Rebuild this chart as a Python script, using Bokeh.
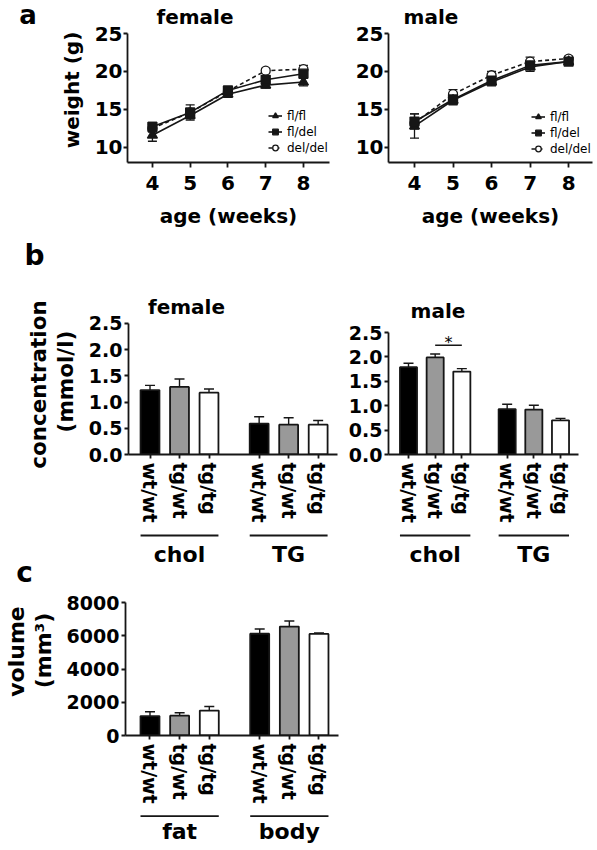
import math
from bokeh.plotting import figure
from bokeh.layouts import column, row
from bokeh.models import (Range1d, FixedTicker, Legend, LegendItem, Whisker,
                          TeeHead, ColumnDataSource, NumeralTickFormatter)
from bokeh.embed import file_html
from bokeh.resources import INLINE
from bokeh.core.properties import value

# ---------------- data ----------------
weeks = [4, 5, 6, 7, 8]
weight_genotypes = ["fl/fl", "fl/del", "del/del"]
weight_ticks = [10, 15, 20, 25]

female_flfl = [11.6, 14.2, 17.0, 18.2, 18.6]
female_flfl_err = [0.8, 0.4, 0.4, 0.4, 0.5]
female_fldel = [12.7, 14.6, 17.5, 18.9, 19.7]
female_fldel_err = [0.6, 1.0, 0.4, 0.5, 0.5]
female_deldel = [12.5, 14.6, 17.4, 20.1, 20.3]
female_deldel_err = [0.5, 0.5, 0.3, 0.3, 0.5]

male_flfl = [12.8, 16.2, 18.6, 20.6, 21.3]
male_flfl_err = [1.6, 0.6, 0.5, 0.6, 0.3]
male_fldel = [13.4, 16.3, 18.8, 20.8, 21.3]
male_fldel_err = [1.0, 0.6, 0.5, 0.5, 0.3]
male_deldel = [13.2, 17.0, 19.5, 21.3, 21.7]
male_deldel_err = [0.6, 0.6, 0.5, 0.6, 0.3]

bar_genotypes = ["wt/wt", "tg/wt", "tg/tg"]
bar_colors = ["#000000", "#999999", "#ffffff"]

lipid_groups = ["chol", "TG"]
conc_ticks = [0.0, 0.5, 1.0, 1.5, 2.0, 2.5]
female_chol = [1.23, 1.29, 1.18]
female_chol_err = [0.09, 0.15, 0.07]
female_tg = [0.59, 0.57, 0.57]
female_tg_err = [0.13, 0.13, 0.08]
male_chol = [1.79, 1.99, 1.70]
male_chol_err = [0.08, 0.07, 0.06]
male_tg = [0.93, 0.92, 0.70]
male_tg_err = [0.10, 0.09, 0.04]
male_chol_star_pair = ["tg/wt", "tg/tg"]
male_chol_star_level = 2.24

volume_groups = ["fat", "body"]
volume_ticks = [0, 2000, 4000, 6000, 8000]
fat_volume = [1170, 1190, 1500]
fat_volume_err = [260, 180, 240]
body_volume = [6120, 6550, 6110]
body_volume_err = [290, 340, 60]

# ---------------- style ----------------
FONT = "DejaVu Sans"
INK = "#161616"
SP, GAP, BAR_W = 10, 7, 6.4
UP = math.pi / 2
MID = 0.346  # em distance from baseline to the middle of the text box (DejaVu)


def make_fig(w, h, bl, br, bt, bb, xr, yr, axes=True):
    kw = dict(width=w, height=h, x_range=xr, y_range=yr, output_backend="svg",
              toolbar_location=None, min_border_left=bl, min_border_right=br,
              min_border_top=bt, min_border_bottom=bb)
    if not axes:
        kw["x_axis_location"] = None
        kw["y_axis_location"] = None
    p = figure(**kw)
    p.grid.visible = False
    p.outline_line_color = None
    p.background_fill_color = "white"
    p.border_fill_color = "white"
    return p


def text_fig(w, h, bb=0):
    """Frame used only for free text; y counts pixels up from the frame bottom."""
    return make_fig(w, h, 0, 0, 0, bb, Range1d(0, w), Range1d(0, h - bb), axes=False)


def put_text(p, x, y, text, size, angle=0.0, style="bold"):
    p.text(x=[x], y=[y], text=[text], angle=angle, text_font=value(FONT),
           text_font_size=f"{size}px", text_font_style=style, text_align="center",
           text_baseline="middle", text_color="black")


class Geo:
    """Page-pixel geometry of a frame, to place free text through its own scales."""
    def __init__(self, l, r, t, b, xr, yr):
        self.l, self.r, self.t, self.b, self.xr, self.yr = l, r, t, b, xr, yr

    def x(self, px):
        return self.xr.start + (px - self.l) / (self.r - self.l) * (self.xr.end - self.xr.start)

    def y(self, py):
        return self.yr.start + (self.b - py) / (self.b - self.t) * (self.yr.end - self.yr.start)


def style_axes(p, tick_size, y_standoff=1, x_standoff=8, x_tick_out=5):
    for ax in p.axis:
        ax.axis_line_color = INK
        ax.axis_line_width = 1.8
        ax.major_tick_line_color = INK
        ax.major_tick_line_width = 1.8
        ax.major_tick_in = 0
        ax.minor_tick_line_color = None
        ax.major_label_text_font = FONT
        ax.major_label_text_font_style = "bold"
        ax.major_label_text_font_size = f"{tick_size}px"
        ax.major_label_text_color = "black"
        ax.axis_label_text_font = FONT
        ax.axis_label_text_font_style = "bold"
        ax.axis_label_text_font_size = "20px"
        ax.axis_label_text_color = "black"
    p.yaxis.major_tick_out = 4
    p.yaxis.major_label_standoff = y_standoff
    p.xaxis.major_tick_out = x_tick_out
    p.xaxis.major_label_standoff = x_standoff


def weight_panel(p, series, legend_xy):
    markers = ["triangle", "square", "circle"]
    fills = [INK, INK, "white"]
    dashes = ["solid", "solid", "4 3"]
    sizes = [10, 9, 9]
    items = {}
    # draw del/del underneath, squares on top (as in the figure); legend keeps genotype order
    for k in [2, 0, 1]:
        name, (vals, errs) = weight_genotypes[k], series[k]
        src = ColumnDataSource(dict(x=weeks, y=vals,
                                    lo=[v - e for v, e in zip(vals, errs)],
                                    hi=[v + e for v, e in zip(vals, errs)]))
        p.add_layout(Whisker(source=src, base="x", lower="lo", upper="hi",
                             line_color=INK, line_width=1.3,
                             lower_head=TeeHead(size=9, line_color=INK, line_width=1.3),
                             upper_head=TeeHead(size=9, line_color=INK, line_width=1.3)))
        lr = p.line("x", "y", source=src, line_color=INK, line_width=1.6, line_dash=dashes[k])
        sr = p.scatter("x", "y", source=src, marker=markers[k], size=sizes[k],
                       fill_color=fills[k], line_color=INK, line_width=1.3)
        items[k] = LegendItem(label=name, renderers=[lr, sr])
    leg = Legend(items=[items[0], items[1], items[2]], location=legend_xy,
                 orientation="vertical", label_text_font=FONT, label_text_font_size="12px",
                 label_text_color="black", glyph_width=14, glyph_height=15,
                 label_height=15, spacing=1, padding=0, margin=0, label_standoff=5,
                 border_line_color=None, background_fill_alpha=0)
    p.add_layout(leg)
    p.xaxis.ticker = FixedTicker(ticks=weeks)
    p.yaxis.ticker = FixedTicker(ticks=weight_ticks)
    p.yaxis.bounds = (p.y_range.start, weight_ticks[-1])
    p.xaxis.axis_label = "age (weeks)"
    p.xaxis.axis_label_standoff = 11


def bar_panel(p, groups, vals_list, errs_list, ticks, tick_fmt):
    pos = [[g * (3 * SP + GAP) + i * SP for i in range(3)] for g in range(len(groups))]
    xs, tops, his, cols, labs = [], [], [], [], []
    for gpos, vals, errs in zip(pos, vals_list, errs_list):
        for x, v, e, c, lab in zip(gpos, vals, errs, bar_colors, bar_genotypes):
            xs.append(x)
            tops.append(v)
            his.append(v + e)
            cols.append(c)
            labs.append(lab)
    src = ColumnDataSource(dict(x=xs, top=tops, hi=his, color=cols))
    p.add_layout(Whisker(source=src, base="x", lower="top", upper="hi",
                         line_color=INK, line_width=1.4, lower_head=None,
                         upper_head=TeeHead(size=10, line_color=INK, line_width=1.4)))
    p.vbar(x="x", top="top", bottom=0, width=BAR_W, source=src, fill_color="color",
           line_color=INK, line_width=1.8)
    p.xaxis.ticker = FixedTicker(ticks=xs)
    p.xaxis.major_label_overrides = {x: lab for x, lab in zip(xs, labs)}
    p.xaxis.major_label_orientation = "vertical"
    p.yaxis.ticker = FixedTicker(ticks=ticks)
    p.yaxis.bounds = (ticks[0], ticks[-1])
    p.yaxis.formatter = NumeralTickFormatter(format=tick_fmt)
    return pos


def group_fig(w, h, bl, br, xr, groups, pos, line_y, text_y, size):
    g = make_fig(w, h, bl, br, 0, 0, xr, Range1d(0, h), axes=False)
    x0 = [gp[0] - BAR_W / 2 for gp in pos]
    x1 = [gp[-1] + BAR_W / 2 for gp in pos]
    xc = [(a + b) / 2 for a, b in zip(x0, x1)]
    g.segment(x0=x0, x1=x1, y0=line_y, y1=line_y, line_color=INK, line_width=1.8)
    g.text(x=xc, y=text_y, text=groups, text_font=value(FONT), text_font_style="bold",
           text_font_size=f"{size}px", text_align="center", text_baseline="middle",
           text_color="black")
    return g


# ================= band a : page y 0..236 =================
gutA = text_fig(88, 236, bb=74)                     # frame page y 0..162
put_text(gutA, 27.5, 162 - 14, "a", 26)
put_text(gutA, 71, 162 - 89.5, "weight (g)", 20, angle=UP)

xr_aF, yr_aF = Range1d(3.34, 8.69), Range1d(8, 29.35)
aF = make_fig(252, 236, 39, 11, 0, 74, xr_aF, yr_aF)
style_axes(aF, 20)
weight_panel(aF, [(female_flfl, female_flfl_err), (female_fldel, female_fldel_err),
                  (female_deldel, female_deldel_err)], (141, 7))
gaF = Geo(127, 329, 0, 162, xr_aF, yr_aF)
put_text(aF, gaF.x(194.5), gaF.y(23 - MID * 20), "female", 20)

xr_aM, yr_aM = Range1d(3.325, 8.62), Range1d(8, 29.35)
aM = make_fig(257, 236, 48, 5, 0, 74, xr_aM, yr_aM)
style_axes(aM, 20)
weight_panel(aM, [(male_flfl, male_flfl_err), (male_fldel, male_fldel_err),
                  (male_deldel, male_deldel_err)], (143, 6))
gaM = Geo(388, 592, 0, 162, xr_aM, yr_aM)
put_text(aM, gaM.x(430.5), gaM.y(23 - MID * 20), "male", 20)

# ================= letter b : page y 236..272 =================
hB = text_fig(597, 36)
put_text(hB, 34, 272 - (265 - MID * 28), "b", 28)

# ================= band b : page y 272..528 =================
gutB = text_fig(84, 256)                            # frame page y 272..528
put_text(gutB, 38, 528 - 384, "concentration", 21.5, angle=UP)
put_text(gutB, 65, 528 - 381, "(mmol/l)", 21.5, angle=UP)

xr_bF, yr_bF = Range1d(-7.29, 63.56), Range1d(0, 3.473)
bF = make_fig(261, 256, 44, 8, 0, 74, xr_bF, yr_bF)
style_axes(bF, 19, y_standoff=2, x_standoff=4, x_tick_out=4)
posF = bar_panel(bF, lipid_groups, [female_chol, female_tg], [female_chol_err, female_tg_err],
                 conc_ticks, "0.0")
gbF = Geo(128, 337, 272, 454, xr_bF, yr_bF)
put_text(bF, gbF.x(186), gbF.y(313 - MID * 20), "female", 20)

xr_bM, yr_bM = Range1d(-7.5, 63.75), Range1d(0, 3.730)
bM = make_fig(252, 256, 43, 19, 0, 74, xr_bM, yr_bM)
style_axes(bM, 19, y_standoff=2, x_standoff=4, x_tick_out=4)
posM = bar_panel(bM, lipid_groups, [male_chol, male_tg], [male_chol_err, male_tg_err],
                 conc_ticks, "0.0")
gbM = Geo(388, 578, 272, 454, xr_bM, yr_bM)
put_text(bM, gbM.x(437.5), gbM.y(317 - MID * 20), "male", 20)
sx = [posM[0][bar_genotypes.index(g)] for g in male_chol_star_pair]
bM.segment(x0=[sx[0]], x1=[sx[1]], y0=male_chol_star_level, y1=male_chol_star_level,
           line_color=INK, line_width=1.6)
bM.text(x=[(sx[0] + sx[1]) / 2], y=[male_chol_star_level], text=["*"], y_offset=-3,
        text_font=value(FONT), text_font_size="16px", text_align="center",
        text_baseline="middle", text_color="black")

# ================= group labels of band b + letter c : page y 528..590 =================
gLet = text_fig(128, 62)
put_text(gLet, 24, 590 - (582 - MID * 28), "c", 28)
gF = group_fig(217, 62, 0, 8, xr_bF, lipid_groups, posF, 590 - 535, 590 - (561.7 - MID * 22), 22)
gM = group_fig(252, 62, 43, 19, xr_bM, lipid_groups, posM, 590 - 535, 590 - (561.7 - MID * 22), 22)

# ================= band c : page y 590..806 =================
gutC = text_fig(62, 216, bb=71)                     # frame page y 590..735
put_text(gutC, 16, 735 - 651, "volume", 22, angle=UP)
put_text(gutC, 43, 735 - 650, "(mm³)", 22, angle=UP)

xr_c, yr_c = Range1d(-8.26, 63.58), Range1d(0, 8722)
cF = make_fig(298, 216, 63, 22, 0, 71, xr_c, yr_c)
style_axes(cF, 19, y_standoff=2, x_standoff=4, x_tick_out=4)
posC = bar_panel(cF, volume_groups, [fat_volume, body_volume], [fat_volume_err, body_volume_err],
                 volume_ticks, "0")

# ================= group labels of band c : page y 806..850 =================
gC = group_fig(360, 44, 125, 22, xr_c, volume_groups, posC, 850 - 815.7, 850 - (839 - MID * 22), 22)

layout = column(
    row(gutA, aF, aM),
    row(hB),
    row(column(gutB), bF, bM),
    row(gLet, gF, gM),
    row(gutC, cF),
    row(gC),
)

with open("out.html", "w") as f:
    f.write(file_html(layout, INLINE))
